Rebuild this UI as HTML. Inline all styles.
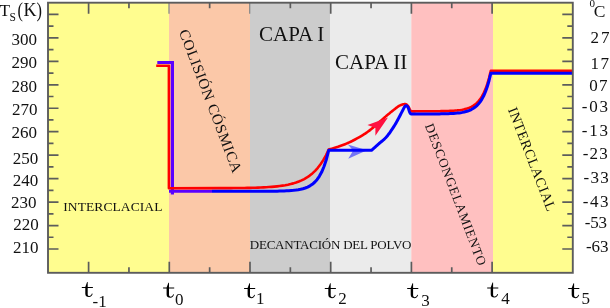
<!DOCTYPE html>
<html><head><meta charset="utf-8"><style>
html,body{margin:0;padding:0;background:#fff;width:610px;height:308px;overflow:hidden}
svg{display:block;will-change:transform}
text{font-family:"Liberation Serif",serif;fill:#111}
</style></head><body>
<svg width="610" height="308" viewBox="0 0 610 308">
<rect x="48.00" y="2.70" width="121.00" height="270.10" fill="#fffd8f"/>
<rect x="169.00" y="2.70" width="81.00" height="270.10" fill="#fbc8a8"/>
<rect x="250.00" y="2.70" width="80.00" height="270.10" fill="#cccccc"/>
<rect x="330.00" y="2.70" width="81.30" height="270.10" fill="#ebebeb"/>
<rect x="411.30" y="2.70" width="81.70" height="270.10" fill="#ffc0c0"/>
<rect x="493.00" y="2.70" width="79.80" height="270.10" fill="#fffd8f"/>
<path d="M88.60 272.80V261.80M88.60 2.70V13.70M169.30 272.80V261.80M250.00 272.80V261.80M330.70 272.80V261.80M330.70 2.70V13.70M411.40 272.80V261.80M411.40 2.70V13.70M492.10 272.80V261.80M492.10 2.70V13.70M128.95 272.80V267.30M128.95 2.70V8.20M209.65 272.80V267.30M209.65 2.70V8.20M290.35 272.80V267.30M290.35 2.70V8.20M371.05 272.80V267.30M371.05 2.70V8.20M451.75 272.80V267.30M451.75 2.70V8.20M48.00 249.00H58.50M572.80 249.00H562.30M48.00 225.54H58.50M572.80 225.54H562.30M48.00 202.08H58.50M572.80 202.08H562.30M48.00 178.62H58.50M572.80 178.62H562.30M48.00 155.16H58.50M572.80 155.16H562.30M48.00 131.70H58.50M572.80 131.70H562.30M48.00 108.24H58.50M572.80 108.24H562.30M48.00 84.78H58.50M572.80 84.78H562.30M48.00 61.32H58.50M572.80 61.32H562.30M48.00 37.86H58.50M572.80 37.86H562.30M48.00 14.40H58.50M572.80 14.40H562.30M48.00 237.27H53.50M572.80 237.27H567.30M48.00 213.81H53.50M572.80 213.81H567.30M48.00 190.35H53.50M572.80 190.35H567.30M48.00 166.89H53.50M572.80 166.89H567.30M48.00 143.43H53.50M572.80 143.43H567.30M48.00 119.97H53.50M572.80 119.97H567.30M48.00 96.51H53.50M572.80 96.51H567.30M48.00 73.05H53.50M572.80 73.05H567.30M48.00 49.59H53.50M572.80 49.59H567.30M48.00 26.13H53.50M572.80 26.13H567.30" stroke="#5c5c5c" stroke-width="1.7" fill="none"/>
<path d="M169.00 2.70V13.70M249.70 2.70V13.70" stroke="#8a8a8a" stroke-width="1.3" fill="none"/>
<polyline points="157.3,62.5 172.4,62.5 172.4,194.5" fill="none" stroke="#5a00ff" stroke-width="3.2"/>
<polyline points="169,191.3 212,191.3" fill="none" stroke="#5a00ff" stroke-width="3"/>
<polyline points="156.20,65.80 168.90,65.80 168.90,188.20 220.00,188.14 222.72,188.12 225.44,188.11 228.15,188.10 230.87,188.08 233.59,188.06 236.31,188.03 239.02,188.00 241.74,187.97 244.46,187.93 247.18,187.88 249.89,187.83 252.61,187.76 255.33,187.68 258.05,187.60 260.76,187.49 263.48,187.37 266.20,187.22 268.92,187.05 271.63,186.86 274.35,186.62 277.07,186.35 279.78,186.03 282.50,185.65 285.22,185.21 287.94,184.69 290.65,184.08 293.37,183.37 296.09,182.53 298.81,181.55 301.52,180.40 304.24,179.04 306.96,177.46 309.68,175.59 312.39,173.41 315.11,170.84 317.83,167.83 320.55,164.30 323.26,160.16 325.98,155.30 328.70,149.60 329.52,149.35 330.61,149.04 331.90,148.66 333.34,148.24 334.87,147.78 336.43,147.29 337.96,146.80 339.40,146.30 340.78,145.80 342.18,145.28 343.59,144.74 345.01,144.18 346.44,143.59 347.86,142.99 349.28,142.36 350.70,141.70 352.14,141.01 353.60,140.27 355.08,139.50 356.56,138.71 358.00,137.91 359.41,137.12 360.75,136.34 362.00,135.60 363.16,134.89 364.23,134.22 365.24,133.56 366.21,132.90 367.15,132.24 368.08,131.56 369.02,130.85 370.00,130.10 371.00,129.31 371.99,128.49 372.98,127.64 373.97,126.77 374.96,125.89 375.96,124.99 376.98,124.10 378.00,123.20 379.05,122.28 380.14,121.34 381.24,120.37 382.34,119.40 383.44,118.44 384.50,117.51 385.53,116.63 386.50,115.80 387.41,115.03 388.27,114.32 389.08,113.64 389.88,112.99 390.65,112.36 391.42,111.74 392.20,111.12 393.00,110.50 393.82,109.85 394.65,109.19 395.48,108.52 396.31,107.87 397.14,107.24 397.95,106.66 398.74,106.14 399.50,105.70 400.25,105.32 401.00,104.99 401.75,104.71 402.47,104.48 403.16,104.30 403.82,104.18 404.44,104.11 405.00,104.10 405.50,104.16 405.94,104.28 406.34,104.46 406.71,104.70 407.04,104.98 407.36,105.30 407.68,105.64 408.00,106.00 408.32,106.42 408.62,106.92 408.90,107.46 409.17,108.04 409.44,108.61 409.70,109.14 409.95,109.61 410.20,110.00 410.43,110.30 410.63,110.55 410.81,110.74 410.99,110.90 411.18,111.03 411.40,111.13 411.67,111.22 412.00,111.30 412.42,111.36 412.94,111.39 413.51,111.40 414.11,111.38 414.70,111.36 415.23,111.33 415.68,111.31 416.00,111.30 420.00,111.29 421.77,111.28 423.54,111.28 425.31,111.28 427.08,111.27 428.85,111.26 430.62,111.26 432.39,111.25 434.16,111.23 435.93,111.22 437.70,111.20 439.47,111.18 441.24,111.15 443.01,111.12 444.78,111.08 446.55,111.03 448.32,110.97 450.09,110.90 451.86,110.81 453.63,110.71 455.40,110.57 457.17,110.41 458.94,110.21 460.71,109.97 462.48,109.67 464.25,109.31 466.02,108.87 467.79,108.33 469.56,107.67 471.33,106.86 473.10,105.87 474.87,104.66 476.64,103.18 478.41,101.37 480.18,99.15 481.95,96.45 483.72,93.14 485.49,89.09 487.26,84.15 489.03,78.10 490.80,70.70 572.80,70.70" fill="none" stroke="#ff0000" stroke-width="2.6" stroke-linejoin="round"/>
<path d="M388,117.6 L367.5,125.1 L375.4,127.9 L375.4,135.8 Z" fill="#ff1040"/>
<polyline points="212.00,191.30 235.00,191.30 237.34,191.30 239.69,191.30 242.03,191.30 244.37,191.30 246.71,191.29 249.06,191.29 251.40,191.29 253.74,191.29 256.08,191.28 258.43,191.28 260.77,191.27 263.11,191.26 265.45,191.25 267.80,191.24 270.14,191.22 272.48,191.20 274.82,191.18 277.17,191.14 279.51,191.09 281.85,191.03 284.19,190.96 286.53,190.86 288.88,190.73 291.22,190.57 293.56,190.36 295.90,190.09 298.25,189.75 300.59,189.30 302.93,188.73 305.27,188.00 307.62,187.05 309.96,185.83 312.30,184.27 314.64,182.25 316.99,179.66 319.33,176.33 321.67,172.04 324.01,166.53 326.36,159.43 328.70,150.30 366.00,150.30 371.50,150.30 371.99,149.86 372.64,149.29 373.40,148.61 374.26,147.84 375.18,147.02 376.15,146.15 377.13,145.27 378.10,144.40 379.09,143.53 380.14,142.66 381.23,141.76 382.35,140.82 383.48,139.84 384.61,138.80 385.72,137.69 386.80,136.50 387.87,135.20 388.96,133.77 390.04,132.26 391.12,130.70 392.17,129.13 393.17,127.58 394.12,126.09 395.00,124.70 395.81,123.38 396.56,122.08 397.27,120.81 397.93,119.58 398.54,118.39 399.12,117.26 399.68,116.19 400.20,115.20 400.69,114.28 401.13,113.43 401.54,112.64 401.91,111.90 402.26,111.21 402.59,110.57 402.90,109.97 403.20,109.40 403.48,108.86 403.73,108.37 403.96,107.92 404.17,107.51 404.38,107.15 404.58,106.82 404.78,106.54 405.00,106.30 405.23,106.10 405.46,105.95 405.69,105.84 405.92,105.77 406.15,105.75 406.37,105.76 406.59,105.81 406.80,105.90 407.00,106.03 407.20,106.20 407.39,106.42 407.58,106.68 407.77,106.96 407.95,107.28 408.12,107.63 408.30,108.00 408.47,108.42 408.64,108.92 408.80,109.45 408.96,110.01 409.11,110.57 409.27,111.10 409.43,111.59 409.60,112.00 409.76,112.35 409.91,112.66 410.05,112.95 410.19,113.19 410.35,113.41 410.54,113.60 410.75,113.76 411.00,113.90 411.32,114.00 411.71,114.05 412.14,114.07 412.59,114.07 413.02,114.05 413.42,114.02 413.76,114.00 414.00,114.00 420.00,113.99 421.77,113.98 423.54,113.98 425.31,113.98 427.08,113.97 428.85,113.96 430.62,113.96 432.39,113.95 434.16,113.93 435.93,113.92 437.70,113.90 439.47,113.88 441.24,113.85 443.01,113.82 444.78,113.78 446.55,113.73 448.32,113.67 450.09,113.60 451.86,113.51 453.63,113.40 455.40,113.27 457.17,113.11 458.94,112.91 460.71,112.67 462.48,112.37 464.25,112.01 466.02,111.56 467.79,111.02 469.56,110.36 471.33,109.55 473.10,108.55 474.87,107.34 476.64,105.86 478.41,104.04 480.18,101.82 481.95,99.11 483.72,95.80 485.49,91.74 487.26,86.78 489.03,80.72 490.80,73.30 572.80,73.30" fill="none" stroke="#0000ff" stroke-width="3" stroke-linejoin="round"/>
<path d="M367,150.3 L347.8,144.6 L353.2,150.6 L348.2,158.7 Z" fill="#0000ff" fill-opacity="0.5"/>
<rect x="48.00" y="2.70" width="524.80" height="270.10" fill="none" stroke="#5c5c5c" stroke-width="1.9"/>
<text x="11.6" y="45.0" font-family="Liberation Serif" font-size="17">300</text>
<text x="11.6" y="68.4" font-family="Liberation Serif" font-size="17">290</text>
<text x="11.6" y="92.1" font-family="Liberation Serif" font-size="17">280</text>
<text x="11.9" y="115.3" font-family="Liberation Serif" font-size="17">270</text>
<text x="11.6" y="138.4" font-family="Liberation Serif" font-size="17">260</text>
<text x="12.7" y="164.3" font-family="Liberation Serif" font-size="17">250</text>
<text x="12.8" y="185.8" font-family="Liberation Serif" font-size="17">240</text>
<text x="11.0" y="208.3" font-family="Liberation Serif" font-size="17">230</text>
<text x="13.2" y="229.9" font-family="Liberation Serif" font-size="17">220</text>
<text x="12.9" y="253.4" font-family="Liberation Serif" font-size="17">210</text>
<text x="590.55" y="42.7" font-family="Liberation Serif" font-size="17" letter-spacing="1.85">27</text>
<text x="590.6" y="68.5" font-family="Liberation Serif" font-size="17" letter-spacing="1.3">17</text>
<text x="589.15" y="90.7" font-family="Liberation Serif" font-size="17" letter-spacing="1.45">07</text>
<text x="581.85" y="112.3" font-family="Liberation Serif" font-size="17" letter-spacing="1.7">-03</text>
<text x="581.85" y="135.6" font-family="Liberation Serif" font-size="17" letter-spacing="1.7">-13</text>
<text x="582.75" y="159.4" font-family="Liberation Serif" font-size="17" letter-spacing="1.2">-23</text>
<text x="583.55" y="183.4" font-family="Liberation Serif" font-size="17" letter-spacing="1.3">-33</text>
<text x="582.75" y="206.7" font-family="Liberation Serif" font-size="17" letter-spacing="1.5">-43</text>
<text x="584.75" y="228.3" font-family="Liberation Serif" font-size="17" letter-spacing="-0.2">-53</text>
<text x="585.95" y="252.3" font-family="Liberation Serif" font-size="17" letter-spacing="-0.1">-63</text>
<text x="-0.6" y="15.9" font-family="Liberation Serif" font-size="17.3">T</text>
<text x="9.6" y="21.3" font-family="Liberation Serif" font-size="11.5">S</text>
<text transform="translate(17.6,16.6) scale(0.8,1)" font-family="Liberation Serif" font-size="20.5">(</text>
<text x="23.4" y="15.5" font-family="Liberation Serif" font-size="18">K</text>
<text transform="translate(36.6,16.6) scale(0.8,1)" font-family="Liberation Serif" font-size="20.5">)</text>
<text x="589.5" y="7.4" font-family="Liberation Serif" font-size="11">0</text>
<text x="593.75" y="17.2" font-family="Liberation Serif" font-size="17.5">C</text>
<path transform="translate(81.80,282.00)" d="M3.5 4.9 L5.3 0.1 L5.9 0 L5.9 4.9 L11.1 4.9 L11.1 5.9 L5.9 5.9 L5.9 11.9 C5.9 13.3 6.5 14 7.5 14 C8.7 14 9.6 13 10.1 11.6 L10.9 11.8 C10.4 13.5 9.2 15 7.2 15 C4.9 15 3.5 13.8 3.5 11.7 L3.5 5.9 L0 5.9 L0 4.9 Z" fill="#000"/>
<path transform="translate(163.10,282.70)" d="M3.5 4.9 L5.3 0.1 L5.9 0 L5.9 4.9 L11.1 4.9 L11.1 5.9 L5.9 5.9 L5.9 11.9 C5.9 13.3 6.5 14 7.5 14 C8.7 14 9.6 13 10.1 11.6 L10.9 11.8 C10.4 13.5 9.2 15 7.2 15 C4.9 15 3.5 13.8 3.5 11.7 L3.5 5.9 L0 5.9 L0 4.9 Z" fill="#000"/>
<path transform="translate(244.10,283.15)" d="M3.5 4.9 L5.3 0.1 L5.9 0 L5.9 4.9 L11.1 4.9 L11.1 5.9 L5.9 5.9 L5.9 11.9 C5.9 13.3 6.5 14 7.5 14 C8.7 14 9.6 13 10.1 11.6 L10.9 11.8 C10.4 13.5 9.2 15 7.2 15 C4.9 15 3.5 13.8 3.5 11.7 L3.5 5.9 L0 5.9 L0 4.9 Z" fill="#000"/>
<path transform="translate(324.80,283.15)" d="M3.5 4.9 L5.3 0.1 L5.9 0 L5.9 4.9 L11.1 4.9 L11.1 5.9 L5.9 5.9 L5.9 11.9 C5.9 13.3 6.5 14 7.5 14 C8.7 14 9.6 13 10.1 11.6 L10.9 11.8 C10.4 13.5 9.2 15 7.2 15 C4.9 15 3.5 13.8 3.5 11.7 L3.5 5.9 L0 5.9 L0 4.9 Z" fill="#000"/>
<path transform="translate(407.20,283.15)" d="M3.5 4.9 L5.3 0.1 L5.9 0 L5.9 4.9 L11.1 4.9 L11.1 5.9 L5.9 5.9 L5.9 11.9 C5.9 13.3 6.5 14 7.5 14 C8.7 14 9.6 13 10.1 11.6 L10.9 11.8 C10.4 13.5 9.2 15 7.2 15 C4.9 15 3.5 13.8 3.5 11.7 L3.5 5.9 L0 5.9 L0 4.9 Z" fill="#000"/>
<path transform="translate(487.20,282.50)" d="M3.5 4.9 L5.3 0.1 L5.9 0 L5.9 4.9 L11.1 4.9 L11.1 5.9 L5.9 5.9 L5.9 11.9 C5.9 13.3 6.5 14 7.5 14 C8.7 14 9.6 13 10.1 11.6 L10.9 11.8 C10.4 13.5 9.2 15 7.2 15 C4.9 15 3.5 13.8 3.5 11.7 L3.5 5.9 L0 5.9 L0 4.9 Z" fill="#000"/>
<path transform="translate(568.20,283.15)" d="M3.5 4.9 L5.3 0.1 L5.9 0 L5.9 4.9 L11.1 4.9 L11.1 5.9 L5.9 5.9 L5.9 11.9 C5.9 13.3 6.5 14 7.5 14 C8.7 14 9.6 13 10.1 11.6 L10.9 11.8 C10.4 13.5 9.2 15 7.2 15 C4.9 15 3.5 13.8 3.5 11.7 L3.5 5.9 L0 5.9 L0 4.9 Z" fill="#000"/>
<text x="92.5" y="306.5" font-family="Liberation Serif" font-size="17">-1</text>
<text x="174.95" y="305.4" font-family="Liberation Serif" font-size="17">0</text>
<text x="256.1" y="304.4" font-family="Liberation Serif" font-size="17">1</text>
<text x="338.25" y="304.4" font-family="Liberation Serif" font-size="17">2</text>
<text x="421.25" y="305.9" font-family="Liberation Serif" font-size="17">3</text>
<text x="501.35" y="303.5" font-family="Liberation Serif" font-size="17">4</text>
<text x="581.6" y="304.4" font-family="Liberation Serif" font-size="17">5</text>
<text x="63.3" y="210.7" font-family="Liberation Serif" font-size="13.5" letter-spacing="0.08">INTERCLACIAL</text>
<text x="259" y="41" font-family="Liberation Serif" font-size="21">CAPA I</text>
<text x="335" y="68.8" font-family="Liberation Serif" font-size="21">CAPA II</text>
<text x="249.8" y="248.5" font-family="Liberation Serif" font-size="13" letter-spacing="-0.23">DECANTACIÓN DEL POLVO</text>
<text transform="translate(178.8,31.8) rotate(69.1)" font-family="Liberation Serif" font-size="15" letter-spacing="0.65">COLISIÓN CÓSMICA</text>
<text transform="translate(424.8,125.5) rotate(69.2)" font-family="Liberation Serif" font-size="13.2" letter-spacing="0.78">DESCONGELAMIENTO</text>
<text transform="translate(507.7,109.5) rotate(68.8)" font-family="Liberation Serif" font-size="14.2" letter-spacing="0.62">INTERCLACIAL</text>
</svg>
</body></html>
